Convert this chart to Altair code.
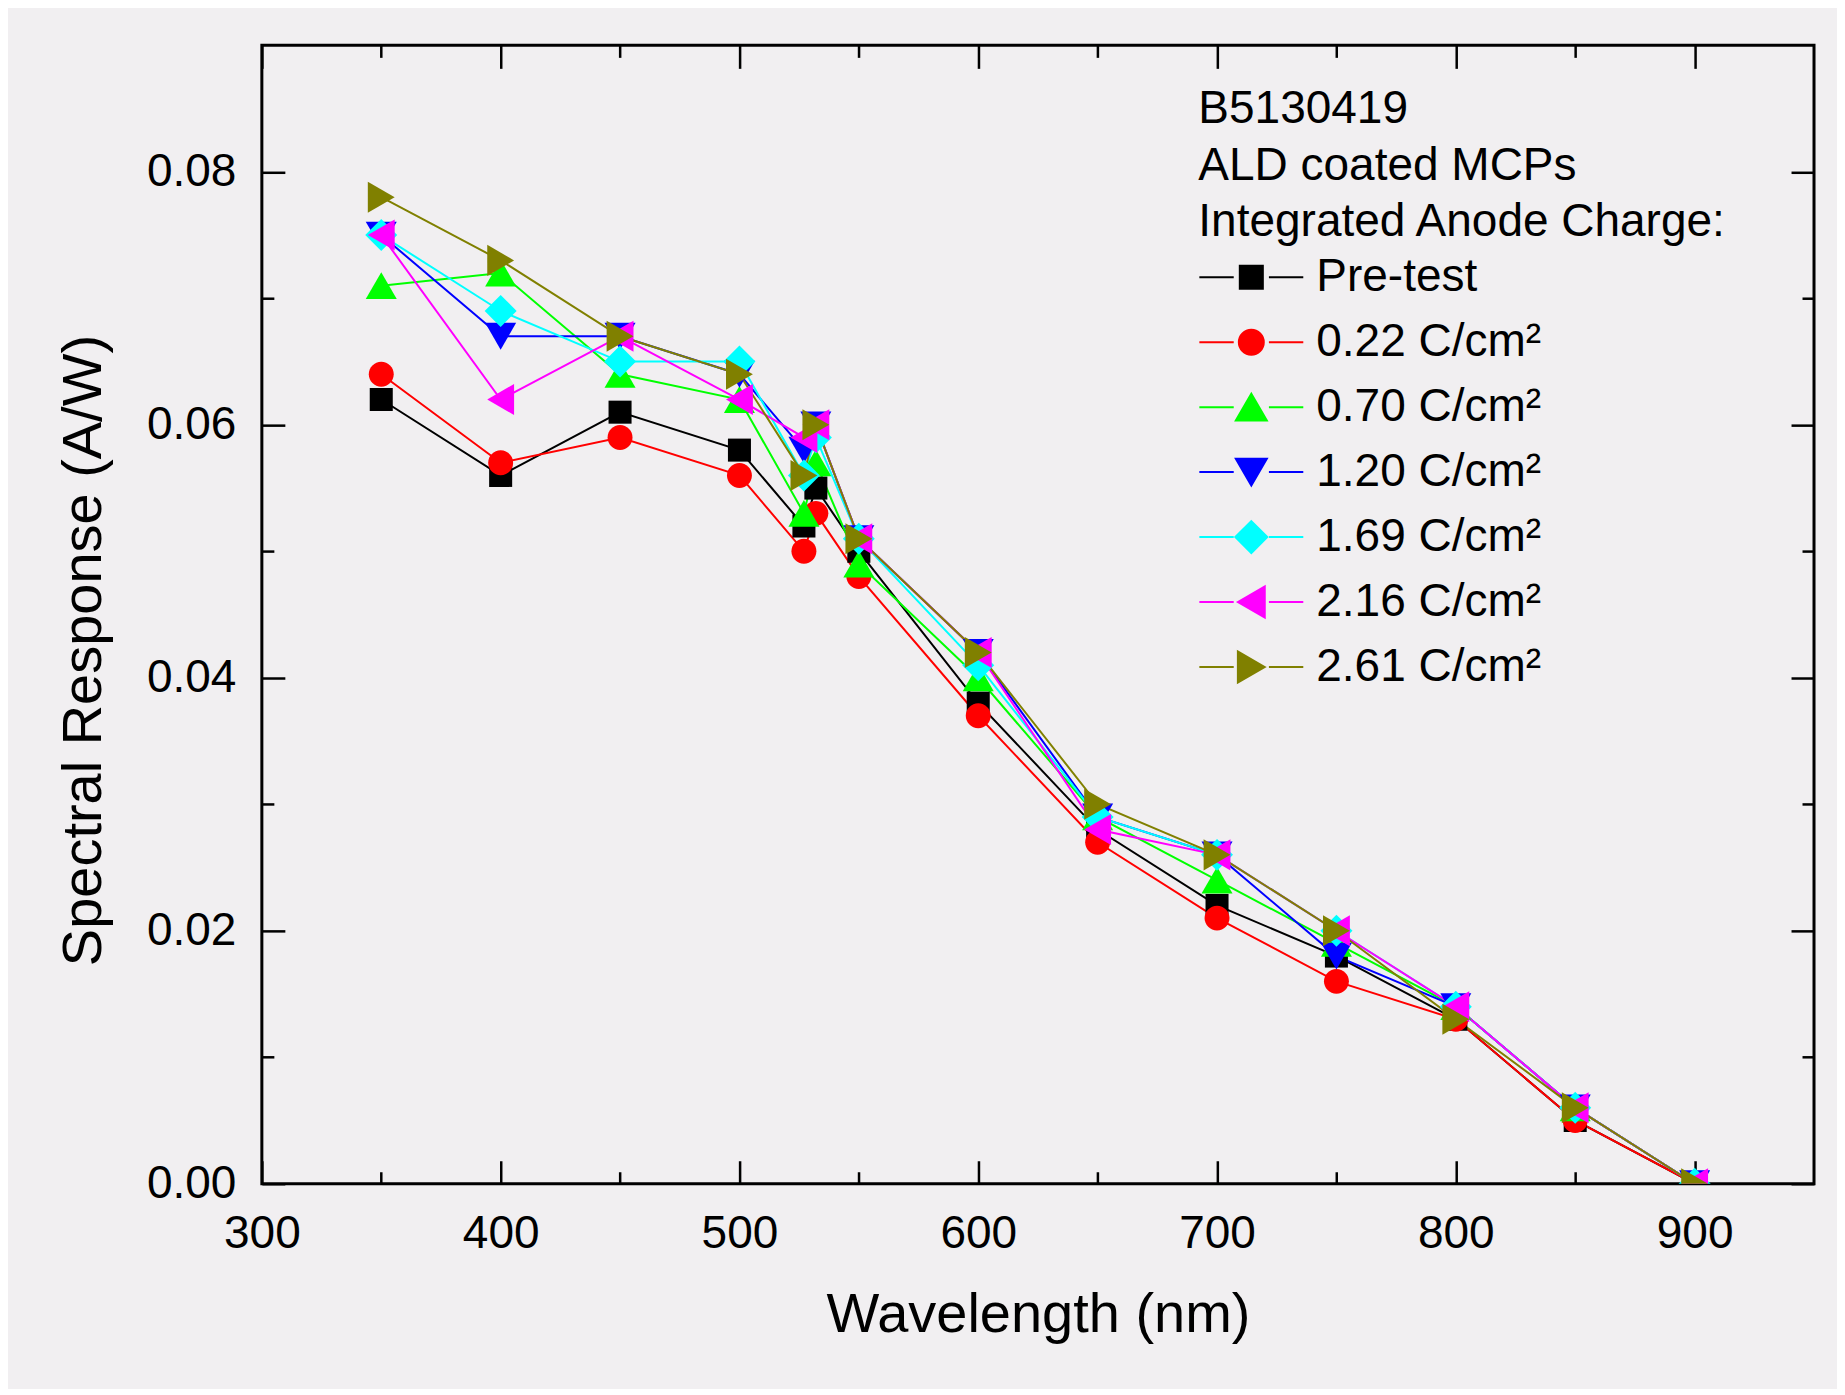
import altair as alt
import pandas as pd

# ---------------- data ----------------
wavelengths = [350, 400, 450, 500, 527, 532, 550, 600, 650, 700, 750, 800, 850, 900]

series_names = ["Pre-test", "0.22 C/cm²", "0.70 C/cm²", "1.20 C/cm²",
                "1.69 C/cm²", "2.16 C/cm²", "2.61 C/cm²"]

pre_test = [0.062, 0.056, 0.061, 0.058, 0.052, 0.055, 0.050, 0.038, 0.028, 0.022, 0.018, 0.013, 0.005, 0.000]
c_022 = [0.064, 0.057, 0.059, 0.056, 0.050, 0.053, 0.048, 0.037, 0.027, 0.021, 0.016, 0.013, 0.005, 0.000]
c_070 = [0.071, 0.072, 0.064, 0.062, 0.053, 0.057, 0.049, 0.040, 0.029, 0.024, 0.019, 0.014, 0.006, 0.000]
c_120 = [0.075, 0.067, 0.067, 0.064, 0.058, 0.060, 0.051, 0.042, 0.029, 0.026, 0.018, 0.014, 0.006, 0.000]
c_169 = [0.075, 0.069, 0.065, 0.065, 0.056, 0.059, 0.051, 0.041, 0.029, 0.026, 0.020, 0.014, 0.006, 0.000]
c_216 = [0.075, 0.062, 0.067, 0.062, 0.059, 0.060, 0.051, 0.042, 0.028, 0.026, 0.020, 0.014, 0.006, 0.000]
c_261 = [0.078, 0.073, 0.067, 0.064, 0.056, 0.060, 0.051, 0.042, 0.030, 0.026, 0.020, 0.013, 0.006, 0.000]

series_values = [pre_test, c_022, c_070, c_120, c_169, c_216, c_261]

legend_header = ["B5130419", "ALD coated MCPs", "Integrated Anode Charge:"]

x_major = [300, 400, 500, 600, 700, 800, 900]
x_minor = [350, 450, 550, 650, 750, 850]
y_major = [0.0, 0.02, 0.04, 0.06, 0.08]
y_minor = [0.01, 0.03, 0.05, 0.07]

# ---------------- styles ----------------
colors = ["#000000", "#ff0000", "#00ff00", "#0000ff", "#00ffff", "#ff00ff", "#808000"]
marker_paths = [
    "M-0.72,-0.72H0.72V0.72H-0.72Z",
    "M0.78,0A0.78,0.78 0 1,1 -0.78,0A0.78,0.78 0 1,1 0.78,0Z",
    "M0,-0.84L0.97,0.84L-0.97,0.84Z",
    "M0,0.84L0.97,-0.84L-0.97,-0.84Z",
    "M0,-1L1,0L0,1L-1,0Z",
    "M-0.84,0L0.84,-0.97L0.84,0.97Z",
    "M0.84,0L-0.84,-0.97L-0.84,0.97Z",
]
legend_paths = [p + "M-3.25,0H-1.1M1.1,0H3.25" for p in marker_paths]

FONT = "Liberation Sans"
W, H = 1553, 1139
MAJ, MIN = 23, 12

rows = []
for name, vals in zip(series_names, series_values):
    for w, v in zip(wavelengths, vals):
        rows.append({"series": name, "wavelength": w, "response": v})
df = pd.DataFrame(rows)

x_scale = alt.Scale(domain=[300, 950], nice=False, zero=False)
y_scale = alt.Scale(domain=[0, 0.09], nice=False, zero=False)
color_scale = alt.Scale(domain=series_names, range=colors)


def make_axis(orient, values, size, labels=False, title=None, fmt=None,
              label_pad=0, title_pad=0, title_y=None):
    kw = dict(orient=orient, values=values, offset=-size, tickSize=size,
              tickWidth=2.5, tickColor="black", domain=False, grid=False,
              labels=labels, title=title)
    if labels:
        kw.update(labelFont=FONT, labelFontSize=46, labelColor="black",
                  labelPadding=label_pad, labelFlush=False, format=fmt,
                  labelOverlap=False)
    if title is not None:
        kw.update(titleFont=FONT, titleFontSize=56, titleFontWeight="normal",
                  titleColor="black", titlePadding=title_pad)
        if title_y is not None:
            kw.update(titleY=title_y)
    return alt.Axis(**kw)


ax_bottom_major = make_axis("bottom", x_major, MAJ, labels=True, title="Wavelength (nm)",
                            fmt="d", label_pad=28, title_pad=31)
ax_bottom_minor = make_axis("bottom", x_minor, MIN)
ax_top_major = make_axis("top", x_major, MAJ)
ax_top_minor = make_axis("top", x_minor, MIN)
ax_left_major = make_axis("left", y_major, MAJ, labels=True, title="Spectral Response (A/W)",
                          fmt=".2f", label_pad=26, title_pad=34, title_y=605)
ax_left_minor = make_axis("left", y_minor, MIN)
ax_right_major = make_axis("right", y_major, MAJ)
ax_right_minor = make_axis("right", y_minor, MIN)

legend = alt.Legend(
    title=legend_header, orient="none", legendX=937, legendY=42, padding=0,
    titleFont=FONT, titleFontSize=46, titleFontWeight="normal", titleColor="black",
    titleLineHeight=56.5, titleLimit=3000, titlePadding=8, titleAnchor="start",
    labelFont=FONT, labelFontSize=46, labelColor="black", labelLimit=3000,
    labelOffset=42, symbolOffset=30, symbolSize=1024, symbolStrokeWidth=2,
    symbolOpacity=1, symbolFillColor="#000000", symbolStrokeColor="#000000",
    rowPadding=19,
)

base = alt.Chart(df)

lines = base.mark_line(strokeWidth=2, clip=True).encode(
    x=alt.X("wavelength:Q", scale=x_scale, axis=ax_bottom_major),
    y=alt.Y("response:Q", scale=y_scale, axis=ax_left_major),
    color=alt.Color("series:N", scale=color_scale, legend=None),
)

points = base.mark_point(filled=True, size=1024, opacity=1, clip=True).encode(
    x=alt.X("wavelength:Q", scale=x_scale, axis=ax_bottom_minor),
    y=alt.Y("response:Q", scale=y_scale, axis=ax_left_minor),
    color=alt.Color("series:N", scale=color_scale, legend=None),
    shape=alt.Shape("series:N", scale=alt.Scale(domain=series_names, range=marker_paths),
                    legend=None),
)

legend_layer = base.mark_point(filled=True, size=1024, opacity=0).encode(
    x=alt.X("wavelength:Q", scale=x_scale, axis=ax_top_major),
    y=alt.Y("response:Q", scale=y_scale, axis=ax_right_major),
    fill=alt.Fill("series:N", scale=alt.Scale(domain=series_names, range=colors), legend=legend),
    stroke=alt.Stroke("series:N", scale=alt.Scale(domain=series_names, range=colors), legend=legend),
    shape=alt.Shape("series:N", scale=alt.Scale(domain=series_names, range=legend_paths),
                    legend=legend),
)

tick_layer = base.mark_point(opacity=0).encode(
    x=alt.X("wavelength:Q", scale=x_scale, axis=ax_top_minor),
    y=alt.Y("response:Q", scale=y_scale, axis=ax_right_minor),
)

chart = (
    alt.layer(lines, points, legend_layer, tick_layer)
    .resolve_scale(shape="independent", fill="independent", stroke="independent")
    .resolve_axis(x="independent", y="independent")
    .properties(width=W, height=H, background="#f1eff1",
                padding={"left": 47, "top": 35, "right": 21, "bottom": 46})
    .configure_view(stroke="black", strokeWidth=3)
)

chart.save("out.html", embed_options={"renderer": "svg", "actions": False})
